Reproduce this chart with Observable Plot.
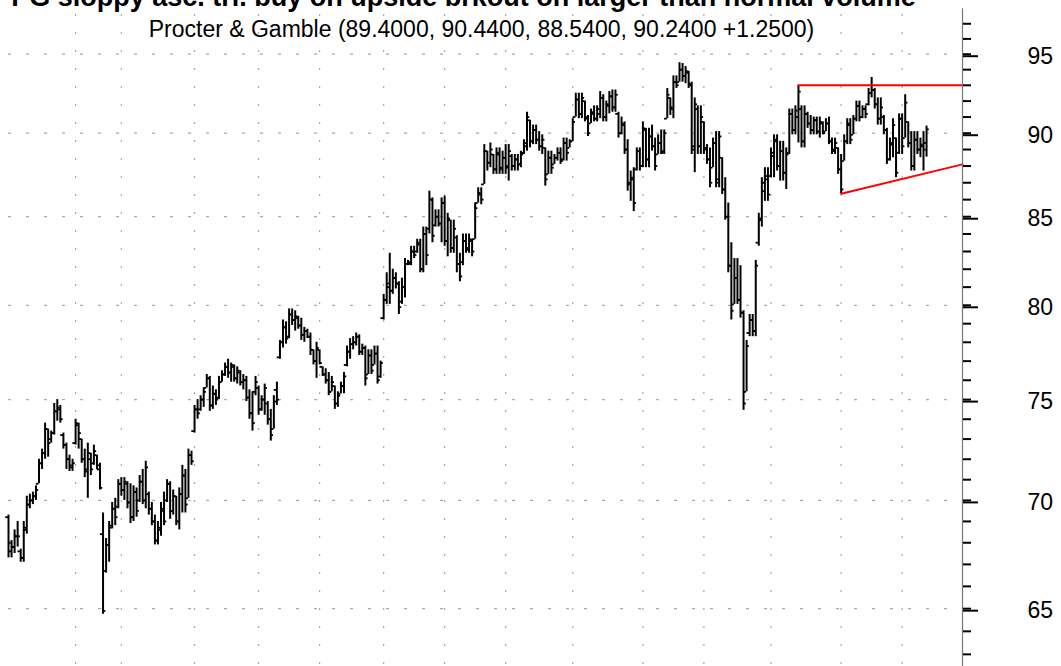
<!DOCTYPE html>
<html><head><meta charset="utf-8">
<script src="https://cdn.jsdelivr.net/npm/d3@7"></script>
<script src="https://cdn.jsdelivr.net/npm/@observablehq/plot@0.6"></script>
<style>
html,body{margin:0;padding:0;background:#fff;}
#chart{position:relative;width:1061px;height:666px;overflow:hidden;}
#chart svg{display:block;}
</style></head><body><div id="chart"></div>
<script>
const title = "PG sloppy asc. tri. buy on upside brkout on larger than normal volume";
const subtitle = "Procter & Gamble (89.4000, 90.4400, 88.5400, 90.2400 +1.2500)";

const open = [69.2,67.6,67.8,68.3,67.6,67.3,68.6,69.8,70.0,70.2,70.8,71.8,72.3,73.5,73.0,73.3,74.4,74.5,73.2,72.7,
72.0,71.6,72.8,73.7,73.0,72.0,71.5,72.0,71.8,72.2,71.5,68.4,66.7,67.9,68.8,69.6,69.7,70.8,70.5,70.8,
69.9,69.2,70.4,70.0,70.9,70.0,70.3,69.6,69.0,68.1,68.6,69.5,70.0,70.8,69.5,70.2,69.0,70.3,71.2,70.1,
72.2,73.4,74.5,74.5,75.0,75.6,76.1,74.7,75.3,75.1,75.9,76.3,76.7,76.4,76.7,76.1,76.4,75.9,76.0,75.1,
74.3,75.4,75.6,74.5,75.0,74.8,74.0,73.5,75.5,77.2,78.0,78.8,78.3,79.5,79.2,79.3,78.9,78.4,78.6,78.3,
77.6,77.0,77.6,76.7,76.3,76.0,75.4,75.7,74.8,75.3,75.7,76.8,77.5,77.9,78.0,78.3,77.5,77.7,76.3,77.3,
76.8,77.4,76.2,79.3,80.3,81.0,80.8,81.5,81.2,80.2,81.0,82.3,82.4,83.0,83.0,83.4,82.0,84.0,84.3,86.0,
84.5,85.0,84.6,85.8,83.6,84.8,83.2,83.8,82.3,82.4,83.6,83.1,83.6,83.7,85.8,86.3,86.9,88.9,88.2,88.7,
87.8,88.7,87.9,88.5,88.0,88.6,88.0,88.4,88.1,88.8,89.2,90.8,89.5,90.2,89.6,89.2,89.1,87.5,88.5,88.1,
88.5,88.8,88.4,89.4,89.1,89.5,91.0,92.1,91.2,92.0,91.0,90.6,91.2,90.9,91.2,92.2,91.0,91.7,92.3,91.6,
91.2,90.0,90.5,89.0,87.0,87.2,87.8,88.9,88.0,90.2,88.4,89.8,89.2,88.7,89.4,88.9,90.9,92.2,91.5,93.2,
93.2,94.0,93.6,93.8,93.0,89.2,91.5,89.2,90.7,89.1,88.4,87.9,89.4,87.2,88.5,86.6,85.0,82.2,80.05,81.5,
80.3,79.6,75.4,78.5,79.2,78.6,83.5,84.8,86.5,87.2,87.4,88.6,89.5,88.0,88.9,87.6,88.8,91.2,90.2,91.0,
91.5,89.5,91.2,90.6,90.2,90.8,90.1,90.6,90.1,90.6,89.5,89.0,89.1,87.8,88.3,89.5,90.5,89.9,90.9,91.7,
91.0,91.5,91.8,92.5,92.7,91.8,90.9,91.0,90.2,88.4,89.3,89.7,88.8,90.9,89.7,90.7,89.4,88.0,89.6,89.0,
89.2,89.40];
const high = [69.3,68.1,68.6,69.0,67.7,69.0,70.2,70.3,70.4,70.7,72.0,72.5,73.8,73.5,73.4,74.8,75.0,74.7,73.3,72.8,
72.2,72.0,74.0,73.8,73.0,72.5,72.8,72.3,72.7,72.2,71.8,69.4,68.2,69.0,69.9,70.1,71.0,71.1,71.1,70.9,
70.8,70.7,70.6,71.2,71.5,71.9,70.4,69.9,69.3,69.0,69.9,70.4,71.0,70.9,70.5,70.2,70.6,71.7,71.5,72.5,
72.4,74.7,75.0,75.2,75.6,76.3,76.2,75.7,75.5,76.2,76.5,76.9,77.1,76.9,76.8,76.7,76.5,76.3,76.2,75.5,
75.4,76.2,75.7,75.2,75.8,74.9,74.5,75.2,75.9,78.1,79.2,79.1,79.8,79.8,79.7,79.4,79.3,78.8,78.7,78.5,
77.6,78.0,77.6,76.7,76.6,76.4,76.2,75.7,75.4,75.9,76.4,77.8,78.2,78.3,78.5,78.4,77.9,77.8,77.6,77.6,
77.8,77.8,77.0,80.6,81.8,82.9,82.0,81.8,81.3,81.5,82.6,82.5,83.3,83.3,83.7,83.7,84.4,84.4,86.5,86.1,
85.4,85.4,86.1,86.2,85.2,84.8,84.8,83.9,82.9,84.0,84.0,84.0,83.7,85.8,86.7,86.7,89.3,88.9,89.4,88.7,
89.1,89.1,88.9,89.3,89.3,88.7,88.7,88.7,88.9,89.6,91.3,90.8,90.5,90.5,90.1,89.9,89.1,88.9,88.9,88.7,
89.1,89.1,89.7,89.7,89.6,90.9,92.5,92.5,92.5,92.0,91.1,91.5,91.7,91.7,92.6,92.4,92.0,92.6,92.7,92.7,
91.3,91.0,90.7,89.6,87.7,87.9,89.1,89.1,90.7,90.3,90.3,90.5,89.7,89.9,90.2,90.2,92.8,92.2,93.6,93.6,
94.45,94.4,94.2,93.9,93.2,92.2,91.7,91.7,90.7,89.3,89.1,89.7,90.1,90.1,88.5,87.3,85.8,83.5,82.6,82.6,
82.2,79.7,78.1,79.5,79.5,82.5,85.2,87.3,87.9,87.9,89.1,89.9,89.9,89.5,89.5,89.1,91.5,91.5,91.7,93.0,
91.7,91.7,91.3,91.1,91.0,91.0,91.0,90.7,90.9,91.0,89.7,89.7,89.1,88.7,89.9,90.9,90.9,91.1,92.0,92.0,
91.7,91.7,92.8,93.5,92.8,92.2,92.2,91.1,90.3,89.7,90.9,89.7,91.2,91.2,92.4,90.7,90.1,90.1,90.1,89.7,
90.1,90.44];
const low = [67.3,67.3,67.5,67.8,67.1,67.1,68.4,69.6,69.8,70.0,70.8,71.5,72.0,72.1,72.8,73.2,73.9,73.8,72.5,71.5,
71.4,71.4,72.7,72.5,71.8,71.1,70.1,71.2,71.7,71.5,70.5,64.75,66.6,67.1,68.65,68.8,69.6,70.2,70.0,69.6,
68.9,69.0,69.2,69.9,69.8,69.6,69.3,68.8,67.9,67.9,68.3,68.8,69.9,69.1,69.3,68.8,68.6,69.4,69.4,70.1,
71.7,73.3,74.0,74.4,74.6,75.6,74.4,74.5,74.7,75.0,75.9,76.2,76.1,75.9,75.9,75.8,75.7,75.5,74.9,74.0,
73.4,75.2,74.2,74.4,74.2,73.7,72.9,73.5,74.7,77.1,77.7,77.9,78.2,78.9,78.6,78.7,78.1,78.0,78.2,77.3,
76.8,76.1,76.8,76.2,75.8,75.2,75.4,74.5,74.6,75.3,75.3,76.7,77.1,77.6,77.8,77.3,77.3,75.7,76.3,76.3,
76.8,75.8,76.1,79.2,80.05,80.05,80.6,80.9,79.5,80.05,80.4,82.2,82.2,82.6,82.9,81.8,81.8,82.2,84.0,83.5,
84.4,84.4,83.5,83.3,82.7,82.9,82.9,81.8,81.3,82.2,82.9,82.9,82.7,83.7,85.8,85.7,86.9,87.7,87.9,87.5,
87.5,87.5,87.5,87.5,87.1,87.7,87.7,87.7,87.9,88.7,88.9,89.1,89.3,89.3,88.9,88.7,86.8,87.5,87.5,88.1,
88.3,88.1,88.3,88.3,89.1,89.5,91.0,90.9,90.9,90.7,89.8,90.6,90.7,90.7,90.9,90.7,90.7,91.2,91.3,91.3,
89.7,89.9,88.7,86.5,85.9,85.3,87.7,87.7,87.9,87.9,87.9,88.9,87.7,88.7,88.7,88.7,90.9,91.1,90.9,92.8,
93.2,93.2,93.1,92.8,88.7,87.6,88.7,88.7,88.7,88.1,86.7,87.9,86.7,86.7,86.3,84.8,81.8,79.2,80.05,80.05,
79.3,74.45,75.4,78.3,78.3,78.3,83.3,84.4,85.9,85.9,87.3,87.3,87.7,87.1,87.1,86.6,88.7,89.9,89.9,89.4,
89.1,89.1,90.3,89.9,89.9,89.9,89.7,89.9,90.1,89.3,88.7,88.7,87.5,86.35,88.3,89.3,89.3,89.9,90.7,90.7,
90.9,90.9,91.7,92.2,91.5,90.5,90.5,89.9,88.1,88.3,88.5,87.3,88.7,88.7,89.7,89.1,87.7,87.7,88.7,88.5,
87.7,88.54];
const close = [68.0,67.8,68.3,68.3,67.3,68.7,69.8,70.0,70.2,70.5,71.8,72.3,73.5,72.8,73.3,74.4,74.6,74.0,72.7,72.0,
71.7,71.8,73.8,73.3,72.0,71.4,72.3,71.5,72.4,71.7,70.6,64.9,67.9,68.7,69.6,69.2,70.8,70.5,70.9,69.9,
69.2,70.4,69.5,70.9,70.0,71.6,69.6,69.0,68.1,68.7,69.6,69.0,70.8,69.5,70.2,69.0,70.3,71.2,69.8,72.2,
71.9,74.5,74.3,75.0,75.4,76.1,74.7,75.3,75.0,75.9,76.3,76.7,76.4,76.8,76.1,76.5,75.9,76.0,75.1,74.3,
73.8,75.9,74.5,75.0,75.6,74.0,73.2,74.9,75.0,78.0,78.8,78.2,79.5,79.2,79.4,78.9,78.4,78.6,78.3,77.6,
77.0,77.7,76.9,76.3,76.0,75.4,75.9,74.8,75.2,75.7,76.2,77.5,77.9,78.0,78.3,77.5,77.7,76.1,77.3,76.5,
77.4,76.0,76.9,80.3,81.2,80.8,81.5,81.2,79.9,81.0,82.3,82.3,83.0,82.8,83.5,82.0,84.0,82.8,86.0,83.9,
85.0,84.6,85.8,83.6,84.9,83.2,84.3,82.3,81.6,83.6,83.2,83.7,83.0,85.5,86.4,86.0,88.9,88.2,89.0,87.8,
88.8,87.8,88.5,87.9,88.9,88.0,88.4,88.1,88.7,89.4,91.0,89.5,90.2,89.6,89.2,89.6,87.2,88.5,87.9,88.5,
88.8,88.3,89.4,88.8,89.5,90.7,92.1,91.2,92.2,90.9,90.0,91.3,90.9,91.5,92.2,91.0,91.8,92.3,91.6,92.4,
90.0,90.6,89.0,86.9,87.3,85.8,88.9,88.0,90.3,88.4,89.8,89.2,88.0,89.4,88.8,90.0,92.4,91.6,93.2,93.0,
94.0,93.6,93.9,93.1,89.0,91.8,89.2,91.0,89.0,88.4,87.0,89.4,87.0,89.8,86.6,85.0,82.2,79.7,81.5,80.3,
79.6,74.8,77.8,79.2,78.6,82.2,84.9,87.0,87.4,86.3,88.8,89.6,88.0,88.9,87.6,88.7,91.2,90.2,91.4,92.6,
89.5,91.2,90.6,90.2,90.8,90.1,90.7,90.0,90.6,89.5,88.9,89.4,87.8,86.6,89.5,90.6,89.6,90.9,91.7,91.0,
91.5,91.2,92.5,92.7,91.8,90.9,91.6,90.2,88.4,89.4,90.5,87.6,90.9,89.2,91.9,89.4,88.0,89.6,89.0,89.3,
88.99,90.24];

const majorTicks = [65, 70, 75, 80, 85, 90, 95];
const minorTicks = [63,64,65,66,67,68,69,70,71,72,73,74,75,76,77,78,79,80,81,82,83,84,85,86,87,88,89,90,91,92,93,94,95,96,97];
const monthStarts = [22, 37, 61, 82, 102, 123, 143, 163, 185, 208, 228, 250, 273, 293];
const resistanceStart = 259, resistanceValue = 93.0;
const supportStart = 273, supportStartValue = 86.35, supportEndValue = 88.1;
const axisTop = 98;

const bars = open.map((o, i) => ({i, open: o, high: high[i], low: low[i], close: close[i]}));
const xDomain = [-8 / 3.05, 954 / 3.05];
const yDomain = [62.478, 98.557];
const tk = 0.9;
const resistancePts = [{i: resistanceStart, v: resistanceValue}, {i: xDomain[1], v: resistanceValue}];
const supportPts = [{i: supportStart, v: supportStartValue}, {i: xDomain[1], v: supportEndValue}];

const chart = Plot.plot({
  width: 1061, height: 666,
  marginLeft: 0, marginRight: 99, marginTop: 0, marginBottom: 0,
  style: {fontFamily: '"Liberation Sans", Arial, sans-serif', fontSize: "23px", background: "#fff", color: "#000"},
  x: {type: "linear", domain: xDomain, axis: null},
  y: {type: "log", domain: yDomain, axis: null},
  marks: [
    Plot.ruleY(majorTicks, {stroke: "#aaaaaa", strokeWidth: 1.2, strokeDasharray: "3,15", strokeDashoffset: 10}),
    Plot.ruleX(monthStarts, {stroke: "#aaaaaa", strokeWidth: 1.2, strokeDasharray: "2,16", strokeDashoffset: 4}),
    Plot.ruleX(bars, {x: "i", y1: "low", y2: "high", stroke: "#000", strokeWidth: 2}),
    Plot.ruleY(bars, {y: "open", x1: d => d.i - tk, x2: "i", stroke: "#000", strokeWidth: 1.8}),
    Plot.ruleY(bars, {y: "close", x1: "i", x2: d => d.i + tk, stroke: "#000", strokeWidth: 1.8}),
    Plot.line(resistancePts, {x: "i", y: "v", stroke: "#ff0000", strokeWidth: 2}),
    Plot.line(supportPts, {x: "i", y: "v", stroke: "#ff0000", strokeWidth: 2}),
    Plot.ruleX([xDomain[1]], {y1: () => yDomain[0], y2: () => axisTop, stroke: "#777", strokeWidth: 1.2}),
    Plot.axisY({ticks: minorTicks, anchor: "right", tickSize: 8, tickFormat: () => "", strokeWidth: 2, label: null}),
    Plot.axisY({ticks: majorTicks, anchor: "right", tickSize: 15, tickPadding: 50, fontSize: 23, dy: 2, strokeWidth: 2, label: null, tickFormat: d => String(d)})
  ]
});
document.getElementById("chart").appendChild(chart);

const svg = d3.select(chart);
svg.append("text").attr("x", 463.5).attr("y", 6).attr("text-anchor", "middle")
  .attr("font-weight", "bold").attr("font-size", 27).attr("fill", "#000").text(title);
svg.append("text").attr("x", 481.5).attr("y", 37).attr("text-anchor", "middle")
  .attr("font-size", 23).attr("fill", "#000").text(subtitle);
</script>
</body></html>
